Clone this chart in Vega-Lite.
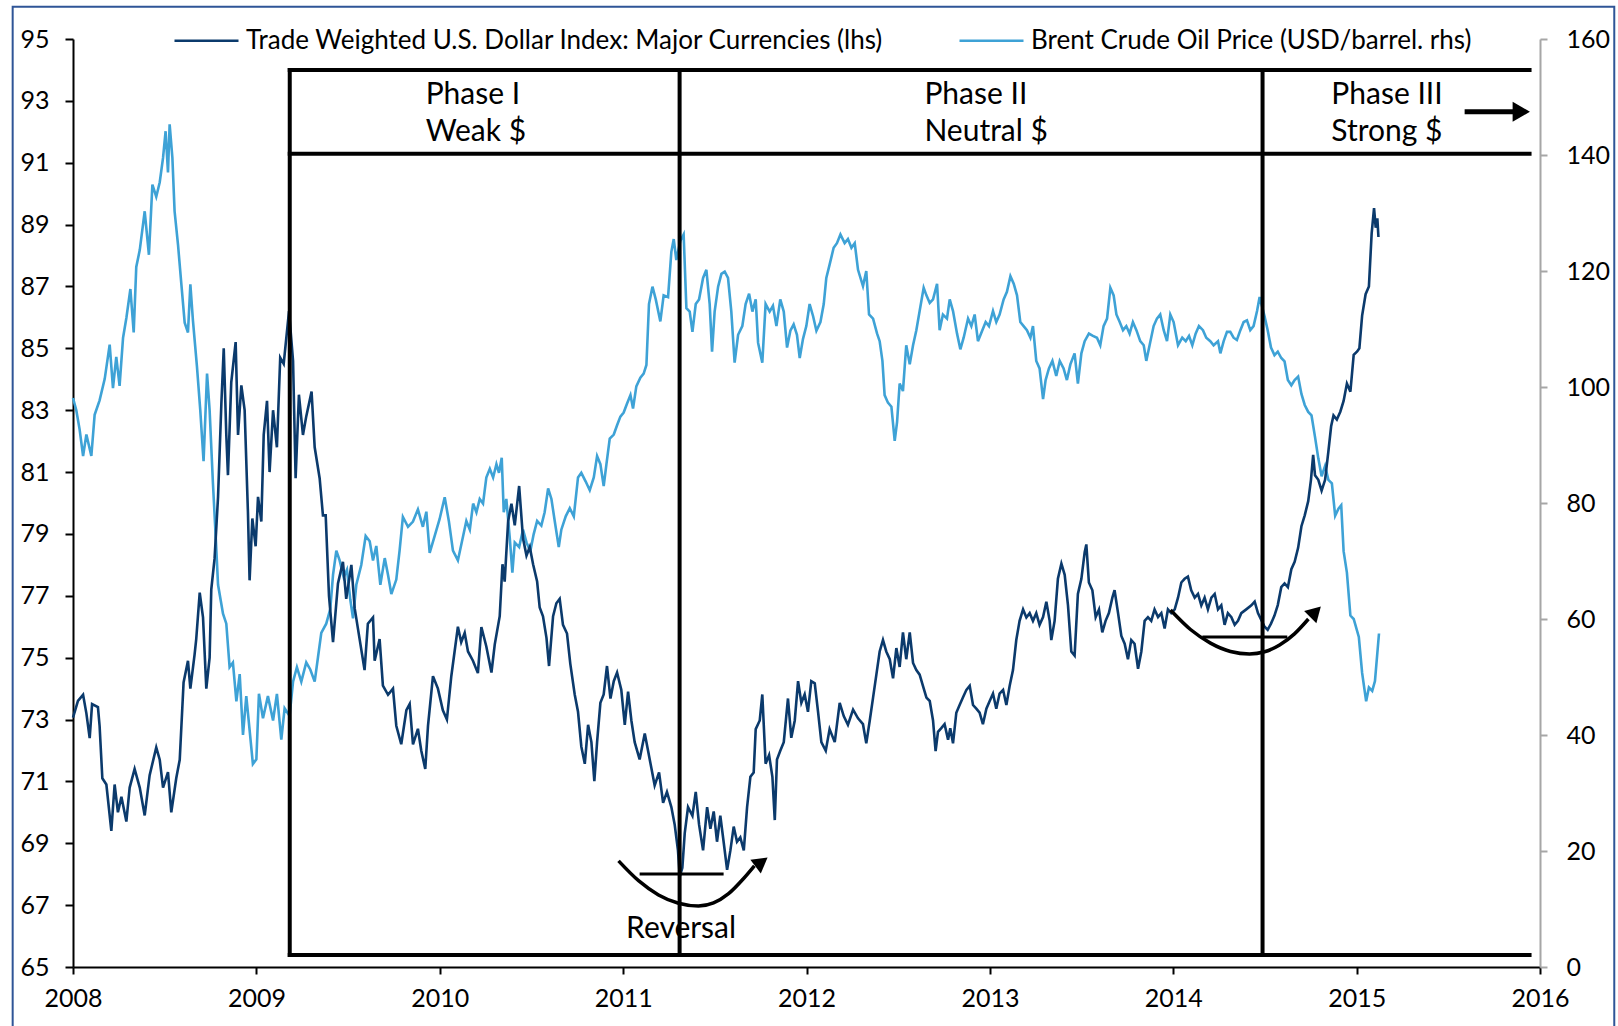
{
  "$schema": "https://vega.github.io/schema/vega-lite/v6.json",
  "width": 1467,
  "height": 928,
  "autosize": {"type": "none"},
  "padding": {"left": 73, "top": 39, "right": 78, "bottom": 59},
  "background": "white",
  "config": {
    "font": "Lato",
    "view": {"stroke": null},
    "axis": {"grid": false, "title": null, "labelFont": "Lato", "labelFontSize": 25, "labelColor": "#000000", "labelFlush": false, "labelOverlap": false}
  },
  "datasets": {
    "usd": [
      {"year": 2008.000, "index": 73.06}, {"year": 2008.027, "index": 73.6}, {"year": 2008.055, "index": 73.8}, {"year": 2008.073, "index": 73.2},
      {"year": 2008.091, "index": 72.4}, {"year": 2008.104, "index": 73.5}, {"year": 2008.136, "index": 73.4}, {"year": 2008.145, "index": 72.8},
      {"year": 2008.160, "index": 71.1}, {"year": 2008.182, "index": 70.9}, {"year": 2008.209, "index": 69.4}, {"year": 2008.227, "index": 70.9},
      {"year": 2008.245, "index": 70.0}, {"year": 2008.264, "index": 70.5}, {"year": 2008.291, "index": 69.7}, {"year": 2008.309, "index": 70.8},
      {"year": 2008.336, "index": 71.4}, {"year": 2008.364, "index": 70.8}, {"year": 2008.391, "index": 69.9}, {"year": 2008.418, "index": 71.2},
      {"year": 2008.454, "index": 72.1}, {"year": 2008.473, "index": 71.7}, {"year": 2008.491, "index": 70.8}, {"year": 2008.518, "index": 71.3},
      {"year": 2008.536, "index": 70.0}, {"year": 2008.563, "index": 71.1}, {"year": 2008.582, "index": 71.7}, {"year": 2008.603, "index": 74.2},
      {"year": 2008.627, "index": 74.9}, {"year": 2008.640, "index": 74.0}, {"year": 2008.663, "index": 75.1}, {"year": 2008.672, "index": 75.6},
      {"year": 2008.691, "index": 77.1}, {"year": 2008.709, "index": 76.3}, {"year": 2008.727, "index": 74.0}, {"year": 2008.745, "index": 75.0},
      {"year": 2008.754, "index": 77.2}, {"year": 2008.772, "index": 78.2}, {"year": 2008.791, "index": 80.2}, {"year": 2008.809, "index": 83.2},
      {"year": 2008.822, "index": 85.0}, {"year": 2008.836, "index": 82.2}, {"year": 2008.845, "index": 80.9}, {"year": 2008.863, "index": 83.9},
      {"year": 2008.887, "index": 85.2}, {"year": 2008.900, "index": 82.2}, {"year": 2008.918, "index": 83.8}, {"year": 2008.936, "index": 83.0},
      {"year": 2008.954, "index": 79.7}, {"year": 2008.963, "index": 77.5}, {"year": 2008.978, "index": 79.5}, {"year": 2008.996, "index": 78.6},
      {"year": 2009.009, "index": 80.2}, {"year": 2009.027, "index": 79.4}, {"year": 2009.040, "index": 82.2}, {"year": 2009.058, "index": 83.3},
      {"year": 2009.072, "index": 81.0}, {"year": 2009.091, "index": 83.0}, {"year": 2009.112, "index": 81.8}, {"year": 2009.130, "index": 84.7},
      {"year": 2009.149, "index": 84.5}, {"year": 2009.178, "index": 86.2}, {"year": 2009.200, "index": 84.6}, {"year": 2009.214, "index": 80.8},
      {"year": 2009.232, "index": 83.5}, {"year": 2009.254, "index": 82.2}, {"year": 2009.272, "index": 82.8}, {"year": 2009.301, "index": 83.6},
      {"year": 2009.318, "index": 81.8}, {"year": 2009.345, "index": 80.8}, {"year": 2009.363, "index": 79.6}, {"year": 2009.378, "index": 79.6},
      {"year": 2009.396, "index": 77.0}, {"year": 2009.418, "index": 75.5}, {"year": 2009.445, "index": 77.4}, {"year": 2009.472, "index": 78.1},
      {"year": 2009.490, "index": 76.9}, {"year": 2009.518, "index": 78.0}, {"year": 2009.536, "index": 76.6}, {"year": 2009.563, "index": 75.6},
      {"year": 2009.590, "index": 74.6}, {"year": 2009.608, "index": 76.1}, {"year": 2009.636, "index": 76.3}, {"year": 2009.645, "index": 74.9},
      {"year": 2009.672, "index": 75.6}, {"year": 2009.690, "index": 74.1}, {"year": 2009.718, "index": 73.8}, {"year": 2009.745, "index": 74.0},
      {"year": 2009.763, "index": 72.8}, {"year": 2009.790, "index": 72.2}, {"year": 2009.818, "index": 73.3}, {"year": 2009.836, "index": 73.5},
      {"year": 2009.854, "index": 72.2}, {"year": 2009.881, "index": 72.7}, {"year": 2009.899, "index": 72.0}, {"year": 2009.921, "index": 71.4},
      {"year": 2009.936, "index": 72.8}, {"year": 2009.963, "index": 74.4}, {"year": 2009.990, "index": 74.0}, {"year": 2010.017, "index": 73.3},
      {"year": 2010.039, "index": 73.0}, {"year": 2010.063, "index": 74.4}, {"year": 2010.099, "index": 76.0}, {"year": 2010.117, "index": 75.5},
      {"year": 2010.136, "index": 75.8}, {"year": 2010.154, "index": 75.2}, {"year": 2010.181, "index": 74.9}, {"year": 2010.208, "index": 74.5},
      {"year": 2010.227, "index": 75.99}, {"year": 2010.254, "index": 75.36}, {"year": 2010.282, "index": 74.52}, {"year": 2010.300, "index": 75.43},
      {"year": 2010.327, "index": 76.34}, {"year": 2010.342, "index": 78.02}, {"year": 2010.354, "index": 77.46}, {"year": 2010.373, "index": 79.42},
      {"year": 2010.391, "index": 79.98}, {"year": 2010.409, "index": 79.28}, {"year": 2010.433, "index": 80.55}, {"year": 2010.454, "index": 78.86},
      {"year": 2010.473, "index": 78.3}, {"year": 2010.491, "index": 78.58}, {"year": 2010.509, "index": 78.02}, {"year": 2010.531, "index": 77.46},
      {"year": 2010.545, "index": 76.62}, {"year": 2010.563, "index": 76.34}, {"year": 2010.582, "index": 75.64}, {"year": 2010.596, "index": 74.73},
      {"year": 2010.618, "index": 76.34}, {"year": 2010.636, "index": 76.76}, {"year": 2010.654, "index": 76.9}, {"year": 2010.672, "index": 76.06},
      {"year": 2010.694, "index": 75.78}, {"year": 2010.712, "index": 74.8}, {"year": 2010.736, "index": 73.81}, {"year": 2010.754, "index": 73.25},
      {"year": 2010.772, "index": 72.13}, {"year": 2010.791, "index": 71.57}, {"year": 2010.809, "index": 72.83}, {"year": 2010.827, "index": 72.27},
      {"year": 2010.843, "index": 71.01}, {"year": 2010.858, "index": 72.27}, {"year": 2010.876, "index": 73.54}, {"year": 2010.894, "index": 73.81},
      {"year": 2010.912, "index": 74.73}, {"year": 2010.931, "index": 73.68}, {"year": 2010.949, "index": 74.24}, {"year": 2010.967, "index": 74.52},
      {"year": 2010.990, "index": 73.96}, {"year": 2011.009, "index": 72.83}, {"year": 2011.027, "index": 73.9}, {"year": 2011.045, "index": 72.97},
      {"year": 2011.063, "index": 72.27}, {"year": 2011.090, "index": 71.71}, {"year": 2011.118, "index": 72.55}, {"year": 2011.136, "index": 71.99},
      {"year": 2011.154, "index": 71.43}, {"year": 2011.172, "index": 70.87}, {"year": 2011.196, "index": 71.29}, {"year": 2011.218, "index": 70.31},
      {"year": 2011.239, "index": 70.66}, {"year": 2011.263, "index": 70.17}, {"year": 2011.281, "index": 69.61}, {"year": 2011.299, "index": 68.77},
      {"year": 2011.309, "index": 67.93}, {"year": 2011.323, "index": 68.21}, {"year": 2011.336, "index": 69.33}, {"year": 2011.354, "index": 70.17},
      {"year": 2011.378, "index": 69.89}, {"year": 2011.396, "index": 70.66}, {"year": 2011.414, "index": 69.61}, {"year": 2011.436, "index": 68.77},
      {"year": 2011.458, "index": 70.17}, {"year": 2011.476, "index": 69.47}, {"year": 2011.494, "index": 70.03}, {"year": 2011.512, "index": 69.05},
      {"year": 2011.530, "index": 69.89}, {"year": 2011.548, "index": 69.05}, {"year": 2011.567, "index": 68.14}, {"year": 2011.585, "index": 68.77},
      {"year": 2011.603, "index": 69.54}, {"year": 2011.621, "index": 69.05}, {"year": 2011.639, "index": 69.19}, {"year": 2011.658, "index": 68.77},
      {"year": 2011.676, "index": 70.17}, {"year": 2011.694, "index": 71.15}, {"year": 2011.712, "index": 71.29}, {"year": 2011.723, "index": 72.69},
      {"year": 2011.745, "index": 72.97}, {"year": 2011.759, "index": 73.81}, {"year": 2011.777, "index": 71.57}, {"year": 2011.796, "index": 71.85},
      {"year": 2011.814, "index": 71.15}, {"year": 2011.827, "index": 69.75}, {"year": 2011.839, "index": 71.71}, {"year": 2011.857, "index": 71.99},
      {"year": 2011.876, "index": 72.27}, {"year": 2011.899, "index": 73.68}, {"year": 2011.917, "index": 72.41}, {"year": 2011.936, "index": 72.97},
      {"year": 2011.954, "index": 74.24}, {"year": 2011.972, "index": 73.54}, {"year": 2011.990, "index": 73.81}, {"year": 2012.008, "index": 73.25},
      {"year": 2012.026, "index": 74.24}, {"year": 2012.045, "index": 74.17}, {"year": 2012.063, "index": 73.25}, {"year": 2012.081, "index": 72.27},
      {"year": 2012.105, "index": 71.99}, {"year": 2012.126, "index": 72.69}, {"year": 2012.154, "index": 72.27}, {"year": 2012.181, "index": 73.54},
      {"year": 2012.203, "index": 73.11}, {"year": 2012.226, "index": 72.83}, {"year": 2012.254, "index": 73.32}, {"year": 2012.281, "index": 73.04},
      {"year": 2012.308, "index": 72.85}, {"year": 2012.326, "index": 72.23}, {"year": 2012.345, "index": 72.97}, {"year": 2012.363, "index": 73.71},
      {"year": 2012.381, "index": 74.45}, {"year": 2012.399, "index": 75.2}, {"year": 2012.417, "index": 75.57}, {"year": 2012.435, "index": 75.2},
      {"year": 2012.454, "index": 74.95}, {"year": 2012.472, "index": 74.33}, {"year": 2012.490, "index": 75.31}, {"year": 2012.508, "index": 74.7},
      {"year": 2012.526, "index": 75.82}, {"year": 2012.544, "index": 74.95}, {"year": 2012.563, "index": 75.82}, {"year": 2012.581, "index": 74.83},
      {"year": 2012.599, "index": 74.6}, {"year": 2012.617, "index": 74.45}, {"year": 2012.635, "index": 74.09}, {"year": 2012.654, "index": 73.71},
      {"year": 2012.672, "index": 73.6}, {"year": 2012.690, "index": 72.97}, {"year": 2012.704, "index": 71.98}, {"year": 2012.717, "index": 72.6},
      {"year": 2012.735, "index": 72.72}, {"year": 2012.753, "index": 72.85}, {"year": 2012.772, "index": 72.35}, {"year": 2012.784, "index": 72.72},
      {"year": 2012.799, "index": 72.23}, {"year": 2012.817, "index": 73.22}, {"year": 2012.835, "index": 73.47}, {"year": 2012.853, "index": 73.71},
      {"year": 2012.872, "index": 73.96}, {"year": 2012.890, "index": 74.09}, {"year": 2012.908, "index": 73.47}, {"year": 2012.926, "index": 73.35},
      {"year": 2012.944, "index": 73.22}, {"year": 2012.962, "index": 72.85}, {"year": 2012.981, "index": 73.35}, {"year": 2012.999, "index": 73.6},
      {"year": 2013.017, "index": 73.84}, {"year": 2013.035, "index": 73.35}, {"year": 2013.053, "index": 73.84}, {"year": 2013.072, "index": 73.96},
      {"year": 2013.090, "index": 73.47}, {"year": 2013.108, "index": 74.09}, {"year": 2013.126, "index": 74.6}, {"year": 2013.144, "index": 75.57},
      {"year": 2013.162, "index": 76.19}, {"year": 2013.181, "index": 76.56}, {"year": 2013.199, "index": 76.3}, {"year": 2013.217, "index": 76.44},
      {"year": 2013.235, "index": 76.19}, {"year": 2013.253, "index": 76.44}, {"year": 2013.271, "index": 76.06}, {"year": 2013.290, "index": 76.31},
      {"year": 2013.308, "index": 76.81}, {"year": 2013.326, "index": 76.19}, {"year": 2013.335, "index": 75.57}, {"year": 2013.353, "index": 76.19},
      {"year": 2013.371, "index": 77.55}, {"year": 2013.390, "index": 78.04}, {"year": 2013.408, "index": 77.68}, {"year": 2013.426, "index": 76.69},
      {"year": 2013.444, "index": 75.2}, {"year": 2013.462, "index": 75.07}, {"year": 2013.480, "index": 77.06}, {"year": 2013.499, "index": 77.55},
      {"year": 2013.517, "index": 78.41}, {"year": 2013.526, "index": 78.66}, {"year": 2013.540, "index": 77.43}, {"year": 2013.559, "index": 77.18},
      {"year": 2013.577, "index": 76.31}, {"year": 2013.595, "index": 76.56}, {"year": 2013.613, "index": 75.82}, {"year": 2013.631, "index": 76.19},
      {"year": 2013.649, "index": 76.44}, {"year": 2013.668, "index": 76.94}, {"year": 2013.680, "index": 77.18}, {"year": 2013.699, "index": 76.44},
      {"year": 2013.717, "index": 75.7}, {"year": 2013.735, "index": 75.45}, {"year": 2013.753, "index": 74.95}, {"year": 2013.771, "index": 75.57},
      {"year": 2013.789, "index": 75.45}, {"year": 2013.808, "index": 74.64}, {"year": 2013.826, "index": 75.2}, {"year": 2013.844, "index": 76.19},
      {"year": 2013.862, "index": 76.31}, {"year": 2013.880, "index": 76.19}, {"year": 2013.898, "index": 76.56}, {"year": 2013.917, "index": 76.31},
      {"year": 2013.935, "index": 76.44}, {"year": 2013.953, "index": 75.94}, {"year": 2013.971, "index": 76.56}, {"year": 2013.989, "index": 76.44},
      {"year": 2014.008, "index": 76.56}, {"year": 2014.026, "index": 76.94}, {"year": 2014.044, "index": 77.43}, {"year": 2014.062, "index": 77.55},
      {"year": 2014.080, "index": 77.62}, {"year": 2014.098, "index": 77.18}, {"year": 2014.117, "index": 76.94}, {"year": 2014.135, "index": 77.06},
      {"year": 2014.153, "index": 76.69}, {"year": 2014.171, "index": 76.94}, {"year": 2014.189, "index": 76.56}, {"year": 2014.208, "index": 76.94},
      {"year": 2014.226, "index": 77.06}, {"year": 2014.244, "index": 76.56}, {"year": 2014.262, "index": 76.69}, {"year": 2014.280, "index": 76.06},
      {"year": 2014.298, "index": 76.44}, {"year": 2014.317, "index": 76.31}, {"year": 2014.335, "index": 76.06}, {"year": 2014.353, "index": 76.19},
      {"year": 2014.371, "index": 76.44}, {"year": 2014.398, "index": 76.56}, {"year": 2014.426, "index": 76.69}, {"year": 2014.444, "index": 76.81},
      {"year": 2014.462, "index": 76.44}, {"year": 2014.497, "index": 76.01}, {"year": 2014.515, "index": 75.9}, {"year": 2014.533, "index": 76.1},
      {"year": 2014.552, "index": 76.36}, {"year": 2014.570, "index": 76.7}, {"year": 2014.589, "index": 77.28}, {"year": 2014.607, "index": 77.4},
      {"year": 2014.625, "index": 77.28}, {"year": 2014.644, "index": 77.86}, {"year": 2014.662, "index": 78.1}, {"year": 2014.681, "index": 78.55},
      {"year": 2014.699, "index": 79.25}, {"year": 2014.717, "index": 79.6}, {"year": 2014.736, "index": 80.06}, {"year": 2014.751, "index": 80.75},
      {"year": 2014.763, "index": 81.56}, {"year": 2014.773, "index": 80.9}, {"year": 2014.791, "index": 80.75}, {"year": 2014.809, "index": 80.4},
      {"year": 2014.828, "index": 80.75}, {"year": 2014.846, "index": 81.67}, {"year": 2014.861, "index": 82.48}, {"year": 2014.874, "index": 82.83},
      {"year": 2014.892, "index": 82.7}, {"year": 2014.911, "index": 82.95}, {"year": 2014.929, "index": 83.3}, {"year": 2014.947, "index": 83.86},
      {"year": 2014.966, "index": 83.6}, {"year": 2014.984, "index": 84.79}, {"year": 2015.003, "index": 84.9}, {"year": 2015.015, "index": 85.0},
      {"year": 2015.030, "index": 86.06}, {"year": 2015.049, "index": 86.75}, {"year": 2015.067, "index": 87.0}, {"year": 2015.082, "index": 88.72},
      {"year": 2015.095, "index": 89.53}, {"year": 2015.104, "index": 88.9}, {"year": 2015.113, "index": 89.2}, {"year": 2015.119, "index": 88.6}
    ],
    "brent": [
      {"year": 2008.000, "price": 98.1}, {"year": 2008.018, "price": 96.0}, {"year": 2008.036, "price": 92.7}, {"year": 2008.055, "price": 88.1},
      {"year": 2008.073, "price": 91.8}, {"year": 2008.100, "price": 88.1}, {"year": 2008.118, "price": 95.2}, {"year": 2008.145, "price": 97.7},
      {"year": 2008.173, "price": 101.4}, {"year": 2008.200, "price": 107.3}, {"year": 2008.218, "price": 99.8}, {"year": 2008.236, "price": 105.2},
      {"year": 2008.254, "price": 100.2}, {"year": 2008.273, "price": 108.5}, {"year": 2008.291, "price": 111.9}, {"year": 2008.313, "price": 116.9},
      {"year": 2008.331, "price": 109.4}, {"year": 2008.345, "price": 120.7}, {"year": 2008.364, "price": 123.6}, {"year": 2008.391, "price": 130.3},
      {"year": 2008.414, "price": 122.8}, {"year": 2008.433, "price": 134.9}, {"year": 2008.454, "price": 132.8}, {"year": 2008.473, "price": 135.3},
      {"year": 2008.491, "price": 139.5}, {"year": 2008.505, "price": 144.1}, {"year": 2008.518, "price": 137.0}, {"year": 2008.527, "price": 145.3},
      {"year": 2008.542, "price": 139.5}, {"year": 2008.554, "price": 130.3}, {"year": 2008.573, "price": 124.4}, {"year": 2008.591, "price": 117.7},
      {"year": 2008.609, "price": 111.1}, {"year": 2008.627, "price": 109.4}, {"year": 2008.640, "price": 117.7}, {"year": 2008.654, "price": 111.5},
      {"year": 2008.676, "price": 103.5}, {"year": 2008.694, "price": 96.0}, {"year": 2008.712, "price": 87.2}, {"year": 2008.731, "price": 102.3},
      {"year": 2008.745, "price": 96.0}, {"year": 2008.763, "price": 83.5}, {"year": 2008.778, "price": 74.3}, {"year": 2008.791, "price": 65.9},
      {"year": 2008.818, "price": 60.9}, {"year": 2008.836, "price": 59.2}, {"year": 2008.854, "price": 51.7}, {"year": 2008.872, "price": 52.5},
      {"year": 2008.891, "price": 45.8}, {"year": 2008.909, "price": 50.5}, {"year": 2008.927, "price": 40.0}, {"year": 2008.945, "price": 46.7},
      {"year": 2008.963, "price": 40.9}, {"year": 2008.981, "price": 35.0}, {"year": 2009.000, "price": 35.8}, {"year": 2009.014, "price": 47.1},
      {"year": 2009.036, "price": 42.9}, {"year": 2009.063, "price": 46.7}, {"year": 2009.091, "price": 42.5}, {"year": 2009.112, "price": 47.1},
      {"year": 2009.136, "price": 39.2}, {"year": 2009.154, "price": 44.6}, {"year": 2009.181, "price": 43.3}, {"year": 2009.200, "price": 49.2},
      {"year": 2009.221, "price": 51.7}, {"year": 2009.245, "price": 49.2}, {"year": 2009.272, "price": 52.5}, {"year": 2009.294, "price": 51.3},
      {"year": 2009.318, "price": 49.2}, {"year": 2009.336, "price": 53.4}, {"year": 2009.354, "price": 57.6}, {"year": 2009.381, "price": 59.2},
      {"year": 2009.403, "price": 61.7}, {"year": 2009.418, "price": 67.6}, {"year": 2009.436, "price": 71.8}, {"year": 2009.454, "price": 70.1},
      {"year": 2009.476, "price": 67.2}, {"year": 2009.494, "price": 68.5}, {"year": 2009.512, "price": 63.4}, {"year": 2009.527, "price": 60.1},
      {"year": 2009.545, "price": 65.9}, {"year": 2009.572, "price": 69.3}, {"year": 2009.596, "price": 74.3}, {"year": 2009.618, "price": 73.4},
      {"year": 2009.636, "price": 70.1}, {"year": 2009.654, "price": 72.6}, {"year": 2009.676, "price": 65.9}, {"year": 2009.700, "price": 70.5},
      {"year": 2009.718, "price": 67.6}, {"year": 2009.736, "price": 64.3}, {"year": 2009.763, "price": 66.8}, {"year": 2009.781, "price": 71.8},
      {"year": 2009.799, "price": 77.6}, {"year": 2009.827, "price": 75.9}, {"year": 2009.854, "price": 76.8}, {"year": 2009.881, "price": 78.9},
      {"year": 2009.908, "price": 75.9}, {"year": 2009.927, "price": 78.5}, {"year": 2009.945, "price": 71.4}, {"year": 2009.972, "price": 74.3},
      {"year": 2009.999, "price": 77.2}, {"year": 2010.027, "price": 81.0}, {"year": 2010.050, "price": 76.8}, {"year": 2010.072, "price": 71.8},
      {"year": 2010.099, "price": 70.1}, {"year": 2010.145, "price": 76.9}, {"year": 2010.164, "price": 75.4}, {"year": 2010.182, "price": 79.9},
      {"year": 2010.200, "price": 78.4}, {"year": 2010.218, "price": 80.7}, {"year": 2010.236, "price": 79.9}, {"year": 2010.254, "price": 84.4},
      {"year": 2010.273, "price": 85.9}, {"year": 2010.291, "price": 84.4}, {"year": 2010.309, "price": 86.7}, {"year": 2010.323, "price": 85.2},
      {"year": 2010.338, "price": 87.8}, {"year": 2010.349, "price": 78.4}, {"year": 2010.363, "price": 80.7}, {"year": 2010.382, "price": 73.9},
      {"year": 2010.396, "price": 68.0}, {"year": 2010.409, "price": 73.2}, {"year": 2010.433, "price": 72.4}, {"year": 2010.454, "price": 75.4},
      {"year": 2010.473, "price": 73.2}, {"year": 2010.494, "price": 71.7}, {"year": 2010.512, "price": 74.6}, {"year": 2010.531, "price": 76.9},
      {"year": 2010.554, "price": 76.1}, {"year": 2010.572, "price": 78.4}, {"year": 2010.591, "price": 82.5}, {"year": 2010.609, "price": 80.7},
      {"year": 2010.627, "price": 76.9}, {"year": 2010.649, "price": 72.4}, {"year": 2010.663, "price": 75.4}, {"year": 2010.687, "price": 77.7},
      {"year": 2010.709, "price": 79.1}, {"year": 2010.731, "price": 77.7}, {"year": 2010.754, "price": 84.4}, {"year": 2010.772, "price": 85.2},
      {"year": 2010.796, "price": 83.7}, {"year": 2010.818, "price": 82.2}, {"year": 2010.840, "price": 84.4}, {"year": 2010.858, "price": 88.1},
      {"year": 2010.876, "price": 86.7}, {"year": 2010.894, "price": 82.9}, {"year": 2010.909, "price": 86.7}, {"year": 2010.927, "price": 91.1},
      {"year": 2010.949, "price": 91.8}, {"year": 2010.967, "price": 93.4}, {"year": 2010.985, "price": 94.9}, {"year": 2011.003, "price": 95.6},
      {"year": 2011.021, "price": 97.1}, {"year": 2011.040, "price": 98.6}, {"year": 2011.054, "price": 96.3}, {"year": 2011.072, "price": 100.1},
      {"year": 2011.094, "price": 101.6}, {"year": 2011.112, "price": 102.3}, {"year": 2011.127, "price": 103.8}, {"year": 2011.141, "price": 114.3},
      {"year": 2011.160, "price": 117.3}, {"year": 2011.178, "price": 115.1}, {"year": 2011.203, "price": 111.3}, {"year": 2011.221, "price": 115.8},
      {"year": 2011.245, "price": 115.5}, {"year": 2011.263, "price": 123.3}, {"year": 2011.276, "price": 125.5}, {"year": 2011.290, "price": 121.9},
      {"year": 2011.312, "price": 125.2}, {"year": 2011.330, "price": 126.3}, {"year": 2011.345, "price": 113.6}, {"year": 2011.363, "price": 113.0},
      {"year": 2011.378, "price": 109.5}, {"year": 2011.396, "price": 114.3}, {"year": 2011.414, "price": 115.1}, {"year": 2011.436, "price": 118.8},
      {"year": 2011.454, "price": 120.2}, {"year": 2011.472, "price": 114.3}, {"year": 2011.485, "price": 106.1}, {"year": 2011.499, "price": 113.0},
      {"year": 2011.518, "price": 117.3}, {"year": 2011.536, "price": 119.5}, {"year": 2011.554, "price": 119.9}, {"year": 2011.572, "price": 118.8},
      {"year": 2011.590, "price": 113.0}, {"year": 2011.608, "price": 104.2}, {"year": 2011.627, "price": 109.0}, {"year": 2011.650, "price": 110.5},
      {"year": 2011.668, "price": 114.3}, {"year": 2011.687, "price": 116.1}, {"year": 2011.705, "price": 113.0}, {"year": 2011.723, "price": 115.1},
      {"year": 2011.736, "price": 107.6}, {"year": 2011.759, "price": 104.2}, {"year": 2011.777, "price": 114.3}, {"year": 2011.799, "price": 113.0},
      {"year": 2011.817, "price": 114.0}, {"year": 2011.836, "price": 110.5}, {"year": 2011.857, "price": 115.1}, {"year": 2011.876, "price": 113.0},
      {"year": 2011.894, "price": 106.8}, {"year": 2011.912, "price": 109.7}, {"year": 2011.930, "price": 110.8}, {"year": 2011.948, "price": 109.0},
      {"year": 2011.963, "price": 105.0}, {"year": 2011.981, "price": 108.3}, {"year": 2011.999, "price": 110.5}, {"year": 2012.017, "price": 114.3},
      {"year": 2012.036, "price": 112.2}, {"year": 2012.054, "price": 109.7}, {"year": 2012.076, "price": 111.2}, {"year": 2012.094, "price": 114.3},
      {"year": 2012.108, "price": 118.8}, {"year": 2012.126, "price": 121.1}, {"year": 2012.148, "price": 124.0}, {"year": 2012.166, "price": 124.8},
      {"year": 2012.185, "price": 126.3}, {"year": 2012.208, "price": 124.8}, {"year": 2012.226, "price": 125.5}, {"year": 2012.245, "price": 124.0},
      {"year": 2012.263, "price": 124.8}, {"year": 2012.281, "price": 120.2}, {"year": 2012.308, "price": 117.4}, {"year": 2012.326, "price": 120.0},
      {"year": 2012.341, "price": 112.5}, {"year": 2012.363, "price": 111.8}, {"year": 2012.385, "price": 109.2}, {"year": 2012.399, "price": 107.9},
      {"year": 2012.414, "price": 104.5}, {"year": 2012.426, "price": 98.6}, {"year": 2012.444, "price": 97.3}, {"year": 2012.463, "price": 96.6},
      {"year": 2012.481, "price": 90.7}, {"year": 2012.494, "price": 94.0}, {"year": 2012.508, "price": 100.6}, {"year": 2012.526, "price": 99.3},
      {"year": 2012.544, "price": 107.2}, {"year": 2012.563, "price": 103.9}, {"year": 2012.581, "price": 107.2}, {"year": 2012.599, "price": 109.8},
      {"year": 2012.617, "price": 113.1}, {"year": 2012.639, "price": 117.1}, {"year": 2012.654, "price": 115.8}, {"year": 2012.672, "price": 114.5},
      {"year": 2012.690, "price": 115.1}, {"year": 2012.712, "price": 117.8}, {"year": 2012.726, "price": 109.8}, {"year": 2012.744, "price": 112.5},
      {"year": 2012.766, "price": 111.8}, {"year": 2012.781, "price": 115.1}, {"year": 2012.799, "price": 113.1}, {"year": 2012.821, "price": 109.2},
      {"year": 2012.839, "price": 106.5}, {"year": 2012.857, "price": 108.5}, {"year": 2012.881, "price": 111.8}, {"year": 2012.899, "price": 110.5},
      {"year": 2012.917, "price": 112.5}, {"year": 2012.935, "price": 107.9}, {"year": 2012.959, "price": 109.8}, {"year": 2012.977, "price": 111.2},
      {"year": 2012.995, "price": 110.5}, {"year": 2013.017, "price": 113.1}, {"year": 2013.035, "price": 111.2}, {"year": 2013.053, "price": 112.5},
      {"year": 2013.075, "price": 115.1}, {"year": 2013.093, "price": 116.4}, {"year": 2013.112, "price": 119.1}, {"year": 2013.130, "price": 117.8},
      {"year": 2013.148, "price": 115.8}, {"year": 2013.166, "price": 111.2}, {"year": 2013.184, "price": 110.5}, {"year": 2013.202, "price": 109.8},
      {"year": 2013.221, "price": 108.5}, {"year": 2013.235, "price": 110.5}, {"year": 2013.253, "price": 104.5}, {"year": 2013.271, "price": 103.2},
      {"year": 2013.290, "price": 97.9}, {"year": 2013.304, "price": 101.2}, {"year": 2013.322, "price": 103.2}, {"year": 2013.341, "price": 104.5},
      {"year": 2013.362, "price": 101.9}, {"year": 2013.381, "price": 104.5}, {"year": 2013.402, "price": 103.2}, {"year": 2013.420, "price": 101.2},
      {"year": 2013.439, "price": 103.9}, {"year": 2013.462, "price": 105.8}, {"year": 2013.480, "price": 100.6}, {"year": 2013.499, "price": 105.8},
      {"year": 2013.517, "price": 107.9}, {"year": 2013.540, "price": 109.2}, {"year": 2013.562, "price": 108.8}, {"year": 2013.584, "price": 108.5},
      {"year": 2013.602, "price": 107.2}, {"year": 2013.620, "price": 110.5}, {"year": 2013.639, "price": 111.8}, {"year": 2013.657, "price": 117.1},
      {"year": 2013.675, "price": 115.8}, {"year": 2013.690, "price": 112.5}, {"year": 2013.708, "price": 111.2}, {"year": 2013.726, "price": 109.8},
      {"year": 2013.744, "price": 110.5}, {"year": 2013.762, "price": 109.2}, {"year": 2013.780, "price": 111.2}, {"year": 2013.799, "price": 109.8},
      {"year": 2013.820, "price": 107.9}, {"year": 2013.839, "price": 107.2}, {"year": 2013.853, "price": 104.5}, {"year": 2013.871, "price": 107.2},
      {"year": 2013.893, "price": 110.5}, {"year": 2013.911, "price": 111.8}, {"year": 2013.929, "price": 112.5}, {"year": 2013.948, "price": 109.8},
      {"year": 2013.966, "price": 107.9}, {"year": 2013.984, "price": 112.5}, {"year": 2014.002, "price": 111.2}, {"year": 2014.026, "price": 107.2},
      {"year": 2014.049, "price": 108.5}, {"year": 2014.068, "price": 107.9}, {"year": 2014.086, "price": 108.8}, {"year": 2014.104, "price": 107.2},
      {"year": 2014.122, "price": 109.2}, {"year": 2014.140, "price": 110.5}, {"year": 2014.162, "price": 109.8}, {"year": 2014.180, "price": 108.5},
      {"year": 2014.202, "price": 107.9}, {"year": 2014.220, "price": 107.2}, {"year": 2014.244, "price": 107.9}, {"year": 2014.257, "price": 105.8},
      {"year": 2014.275, "price": 107.9}, {"year": 2014.293, "price": 109.5}, {"year": 2014.311, "price": 109.5}, {"year": 2014.329, "price": 108.5},
      {"year": 2014.347, "price": 108.1}, {"year": 2014.366, "price": 109.8}, {"year": 2014.384, "price": 111.2}, {"year": 2014.402, "price": 111.5},
      {"year": 2014.420, "price": 109.8}, {"year": 2014.438, "price": 110.5}, {"year": 2014.457, "price": 113.1}, {"year": 2014.471, "price": 115.5},
      {"year": 2014.497, "price": 112.3}, {"year": 2014.515, "price": 109.8}, {"year": 2014.533, "price": 106.8}, {"year": 2014.552, "price": 105.5},
      {"year": 2014.570, "price": 106.1}, {"year": 2014.589, "price": 105.0}, {"year": 2014.607, "price": 104.4}, {"year": 2014.625, "price": 101.2},
      {"year": 2014.644, "price": 100.3}, {"year": 2014.662, "price": 101.2}, {"year": 2014.681, "price": 101.8}, {"year": 2014.699, "price": 98.8},
      {"year": 2014.717, "price": 96.9}, {"year": 2014.736, "price": 95.7}, {"year": 2014.754, "price": 95.1}, {"year": 2014.773, "price": 91.4},
      {"year": 2014.791, "price": 87.7}, {"year": 2014.809, "price": 84.6}, {"year": 2014.828, "price": 86.4}, {"year": 2014.846, "price": 84.0},
      {"year": 2014.865, "price": 83.4}, {"year": 2014.883, "price": 77.8}, {"year": 2014.901, "price": 79.0}, {"year": 2014.916, "price": 79.6},
      {"year": 2014.929, "price": 71.7}, {"year": 2014.947, "price": 68.0}, {"year": 2014.966, "price": 60.6}, {"year": 2014.984, "price": 60.0},
      {"year": 2015.012, "price": 56.9}, {"year": 2015.030, "price": 50.7}, {"year": 2015.052, "price": 45.8}, {"year": 2015.067, "price": 48.2},
      {"year": 2015.085, "price": 47.6}, {"year": 2015.100, "price": 49.3}, {"year": 2015.122, "price": 57.5}
    ],
    "phase_box": [
      {"year": 2009.182, "year_end": 2015.943, "level": 94.0, "level_end": 94.0},
      {"year": 2009.182, "year_end": 2015.943, "level": 91.29, "level_end": 91.29},
      {"year": 2009.182, "year_end": 2015.943, "level": 65.39, "level_end": 65.39},
      {"year": 2009.182, "year_end": 2009.182, "level": 65.39, "level_end": 94.0},
      {"year": 2011.308, "year_end": 2011.308, "level": 65.39, "level_end": 94.0},
      {"year": 2014.487, "year_end": 2014.487, "level": 65.39, "level_end": 94.0}
    ],
    "phase_labels": [
      {"year": 2009.923, "level": 93.2, "label": ["Phase I", "Weak $"]},
      {"year": 2012.643, "level": 93.2, "label": ["Phase II", "Neutral $"]},
      {"year": 2014.862, "level": 93.2, "label": ["Phase III", "Strong $"]}
    ],
    "reversal_arcs": [
      {"arc": "2011", "year": 2010.975, "level": 68.43}, {"arc": "2011", "year": 2011.084, "level": 67.79},
      {"arc": "2011", "year": 2011.193, "level": 67.33}, {"arc": "2011", "year": 2011.302, "level": 67.06},
      {"arc": "2011", "year": 2011.411, "level": 66.97}, {"arc": "2011", "year": 2011.493, "level": 67.07},
      {"arc": "2011", "year": 2011.575, "level": 67.37}, {"arc": "2011", "year": 2011.657, "level": 67.86},
      {"arc": "2011", "year": 2011.716, "level": 68.27},
      {"arc": "2014", "year": 2013.985, "level": 76.54}, {"arc": "2014", "year": 2014.094, "level": 75.91},
      {"arc": "2014", "year": 2014.203, "level": 75.47}, {"arc": "2014", "year": 2014.312, "level": 75.2},
      {"arc": "2014", "year": 2014.416, "level": 75.12}, {"arc": "2014", "year": 2014.498, "level": 75.19},
      {"arc": "2014", "year": 2014.58, "level": 75.41}, {"arc": "2014", "year": 2014.661, "level": 75.77},
      {"arc": "2014", "year": 2014.737, "level": 76.25}
    ],
    "reversal_bases": [
      {"year": 2011.09, "year_end": 2011.548, "level": 68.01},
      {"year": 2014.159, "year_end": 2014.622, "level": 75.67}
    ]
  },
  "layer": [
    {
      "data": {"name": "brent"},
      "mark": {"type": "line", "strokeWidth": 2.6},
      "encoding": {
        "x": {
          "field": "year", "type": "quantitative",
          "scale": {"domain": [2008, 2016], "nice": false, "zero": false},
          "axis": {
            "values": [2008, 2009, 2010, 2011, 2012, 2013, 2014, 2015, 2016], "format": "d",
            "domainColor": "#000000", "domainWidth": 2, "tickColor": "#000000", "tickWidth": 2,
            "tickSize": 7, "labelPadding": 12
          }
        },
        "y": {
          "field": "price", "type": "quantitative",
          "scale": {"domain": [0, 160], "nice": false},
          "axis": {
            "orient": "right", "values": [0, 20, 40, 60, 80, 100, 120, 140, 160],
            "domainColor": "#A6A6A6", "domainWidth": 2, "tickColor": "#A6A6A6", "tickWidth": 2,
            "tickSize": 7, "labelPadding": 19
          }
        },
        "color": {"datum": "Brent Crude Oil Price (USD/barrel. rhs)"}
      }
    },
    {
      "layer": [
        {
          "data": {"name": "usd"},
          "mark": {"type": "line", "strokeWidth": 2.6},
          "encoding": {
            "x": {
              "field": "year", "type": "quantitative",
              "scale": {"domain": [2008, 2016], "nice": false, "zero": false},
              "axis": {
                "values": [2008, 2009, 2010, 2011, 2012, 2013, 2014, 2015, 2016], "format": "d",
                "domainColor": "#000000", "domainWidth": 2, "tickColor": "#000000", "tickWidth": 2,
                "tickSize": 7, "labelPadding": 12
              }
            },
            "y": {
              "field": "index", "type": "quantitative",
              "scale": {"domain": [65, 95], "nice": false, "zero": false},
              "axis": {
                "orient": "left", "values": [65, 67, 69, 71, 73, 75, 77, 79, 81, 83, 85, 87, 89, 91, 93, 95],
                "domainColor": "#000000", "domainWidth": 2, "tickColor": "#000000", "tickWidth": 2,
                "tickSize": 8, "labelPadding": 16
              }
            },
            "color": {
              "datum": "Trade Weighted U.S. Dollar Index: Major Currencies (lhs)",
              "scale": {
                "domain": ["Trade Weighted U.S. Dollar Index: Major Currencies (lhs)", "Brent Crude Oil Price (USD/barrel. rhs)"],
                "range": ["#0B3A6C", "#3EA2D6"]
              },
              "legend": {
                "orient": "none", "legendX": 100, "legendY": -32, "direction": "horizontal", "title": null,
                "symbolType": "stroke", "symbolSize": 4096, "symbolStrokeWidth": 2.6,
                "labelFont": "Lato", "labelFontSize": 26, "labelColor": "#000000", "labelOffset": 6,
                "labelLimit": 1000, "columnPadding": 70
              }
            }
          }
        },
        {
          "data": {"name": "phase_box"},
          "mark": {"type": "rule", "color": "#000000", "strokeWidth": 4, "strokeCap": "square"},
          "encoding": {
            "x": {"field": "year", "type": "quantitative"},
            "x2": {"field": "year_end"},
            "y": {"field": "level", "type": "quantitative"},
            "y2": {"field": "level_end"}
          }
        },
        {
          "data": {"name": "phase_labels"},
          "mark": {"type": "text", "align": "left", "baseline": "middle", "fontSize": 30, "lineHeight": 37, "color": "#000000", "font": "Lato"},
          "encoding": {
            "x": {"field": "year", "type": "quantitative"},
            "y": {"field": "level", "type": "quantitative"},
            "text": {"field": "label"}
          }
        },
        {
          "data": {"name": "reversal_arcs"},
          "mark": {"type": "line", "color": "#000000", "strokeWidth": 3.5, "interpolate": "monotone"},
          "encoding": {
            "x": {"field": "year", "type": "quantitative"},
            "y": {"field": "level", "type": "quantitative"},
            "detail": {"field": "arc"}
          }
        },
        {
          "data": {"name": "reversal_bases"},
          "mark": {"type": "rule", "color": "#000000", "strokeWidth": 3},
          "encoding": {
            "x": {"field": "year", "type": "quantitative"},
            "x2": {"field": "year_end"},
            "y": {"field": "level", "type": "quantitative"}
          }
        },
        {
          "data": {"values": [{}]},
          "mark": {"type": "point", "shape": "triangle-right", "angle": -37, "filled": true, "size": 300, "color": "#000000", "opacity": 1},
          "encoding": {"x": {"datum": 2011.755, "type": "quantitative"}, "y": {"datum": 68.39, "type": "quantitative"}}
        },
        {
          "data": {"values": [{}]},
          "mark": {"type": "point", "shape": "triangle-right", "angle": -45, "filled": true, "size": 300, "color": "#000000", "opacity": 1},
          "encoding": {"x": {"datum": 2014.776, "type": "quantitative"}, "y": {"datum": 76.48, "type": "quantitative"}}
        },
        {
          "data": {"values": [{}]},
          "mark": {"type": "rule", "color": "#000000", "strokeWidth": 5},
          "encoding": {"x": {"datum": 2015.589, "type": "quantitative"}, "x2": {"datum": 2015.87}, "y": {"datum": 92.65, "type": "quantitative"}}
        },
        {
          "data": {"values": [{}]},
          "mark": {"type": "point", "shape": "triangle-right", "filled": true, "size": 400, "color": "#000000", "opacity": 1},
          "encoding": {"x": {"datum": 2015.898, "type": "quantitative"}, "y": {"datum": 92.65, "type": "quantitative"}}
        },
        {
          "data": {"values": [{"year": 2011.316, "level": 66.23, "label": "Reversal"}]},
          "mark": {"type": "text", "align": "center", "baseline": "middle", "fontSize": 30, "color": "#000000", "font": "Lato"},
          "encoding": {
            "x": {"field": "year", "type": "quantitative"},
            "y": {"field": "level", "type": "quantitative"},
            "text": {"field": "label"}
          }
        },
        {
          "data": {"values": [{}]},
          "mark": {"type": "rect", "fill": null, "stroke": "#2F5597", "strokeWidth": 2, "clip": false},
          "encoding": {
            "x": {"datum": 2007.671, "type": "quantitative"}, "x2": {"datum": 2016.405},
            "y": {"datum": 96.04, "type": "quantitative"}, "y2": {"datum": 62.9}
          }
        }
      ]
    }
  ],
  "resolve": {"scale": {"y": "independent"}}
}
